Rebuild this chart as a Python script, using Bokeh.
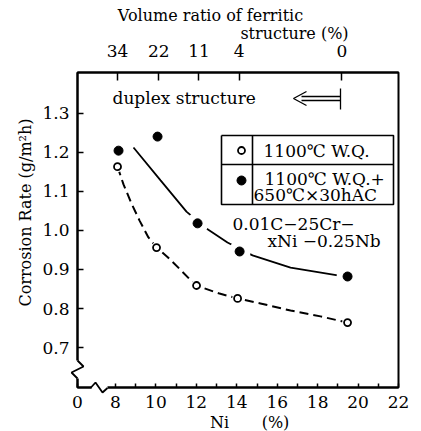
import math
from bokeh.plotting import figure
from bokeh.models import LinearAxis, FixedTicker, Range1d
from bokeh.core.properties import value
from bokeh.embed import file_html
from bokeh.resources import INLINE

# ---------------- data ----------------
# 1100C W.Q. (open circles)
ni_wq = [8.10, 10.03, 12.01, 14.04, 19.48]
rate_wq = [1.163, 0.956, 0.859, 0.826, 0.764]
# 1100C W.Q. + 650C x 30h AC (filled circles)
ni_aged = [8.15, 10.08, 12.06, 14.14, 19.48]
rate_aged = [1.204, 1.240, 1.018, 0.946, 0.882]

# hand-drawn trend curves
trend_wq_ni = [8.10, 8.40, 8.79, 9.19, 9.63, 10.03, 10.57, 11.12, 11.71, 12.01,
               13.10, 14.04, 15.17, 16.66, 18.14, 19.48]
trend_wq_rate = [1.163, 1.117, 1.069, 1.025, 0.982, 0.956, 0.932, 0.904, 0.873, 0.859,
                 0.839, 0.826, 0.813, 0.795, 0.780, 0.764]
trend_aged_ni = [8.89, 10.23, 11.51, 12.50, 13.54, 14.78, 16.66, 18.99, 19.48]
trend_aged_rate = [1.212, 1.128, 1.048, 1.005, 0.969, 0.936, 0.905, 0.885, 0.880]

# axes
ni_ticks = [8, 10, 12, 14, 16, 18, 20, 22]
ni_tick_labels = ["8", "10", "12", "14", "16", "18", "20", "22"]
ni_minor_ticks = [9, 11, 13, 15, 17, 19, 21]
ni_origin_label = "0"
rate_ticks = [0.7, 0.8, 0.9, 1.0, 1.1, 1.2, 1.3]
rate_tick_labels = ["0.7", "0.8", "0.9", "1.0", "1.1", "1.2", "1.3"]
ferrite_ni = [8.1, 10.14, 12.13, 14.12, 19.2]
ferrite_labels = ["34", "22", "11", "4", "0"]

# ---------------- layout ----------------
W, H = 421, 431
FL, FR, FT, FB = 77, 398, 72, 387
XMIN, XMAX = 6.12, 22.0
YMIN, YMAX = 0.598, 1.404
SERIF = "DejaVu Serif"


def X(px):
    return XMIN + (px - FL) * (XMAX - XMIN) / (FR - FL)


def Y(py):
    return YMAX - (py - FT) * (YMAX - YMIN) / (FB - FT)


p = figure(width=W, height=H, x_range=Range1d(XMIN, XMAX), y_range=Range1d(YMIN, YMAX),
           output_backend="svg", toolbar_location=None,
           min_border_left=FL, min_border_right=W - FR,
           min_border_top=FT, min_border_bottom=H - FB)
p.grid.visible = False
p.background_fill_color = "white"
p.border_fill_color = "white"
p.outline_line_color = "black"
p.outline_line_width = 2

# bottom axis
xa = p.xaxis[0]
xa.ticker = FixedTicker(ticks=[XMIN] + ni_ticks, minor_ticks=ni_minor_ticks)
ov = {XMIN: ni_origin_label}
ov.update({t: l for t, l in zip(ni_ticks, ni_tick_labels)})
xa.major_label_overrides = ov
xa.axis_line_width = 2
xa.major_tick_in = 4
xa.major_tick_out = 0
xa.minor_tick_in = 4
xa.minor_tick_out = 0
xa.major_tick_line_width = 1.5
xa.minor_tick_line_width = 1.5
xa.major_label_text_font = SERIF
xa.major_label_text_font_size = "17px"
xa.major_label_text_color = "black"
xa.major_label_standoff = 8

# left axis
ya = p.yaxis[0]
ya.ticker = FixedTicker(ticks=rate_ticks, minor_ticks=[])
ya.major_label_overrides = {t: l for t, l in zip(rate_ticks, rate_tick_labels)}
ya.axis_line_width = 2
ya.major_tick_in = 6
ya.major_tick_out = 0
ya.major_tick_line_width = 1.5
ya.major_label_text_font = SERIF
ya.major_label_text_font_size = "17px"
ya.major_label_text_color = "black"
ya.major_label_standoff = 8

# top axis: volume ratio of ferritic structure
ta = LinearAxis(ticker=FixedTicker(ticks=ferrite_ni, minor_ticks=[]),
                major_label_overrides={t: l for t, l in zip(ferrite_ni, ferrite_labels)})
ta.axis_line_width = 2
ta.major_tick_in = 8
ta.major_tick_out = 0
ta.major_tick_line_width = 1.5
ta.major_label_text_font = SERIF
ta.major_label_text_font_size = "17px"
ta.major_label_text_color = "black"
ta.major_label_standoff = 16
p.add_layout(ta, "above")

# ---------------- curves and markers ----------------
p.line(trend_aged_ni, trend_aged_rate, line_color="black", line_width=1.8)
p.line(trend_wq_ni, trend_wq_rate, line_color="black", line_width=2, line_dash="9 5")
# white halos: gaps of the hand-drawn curves around the points
p.scatter(ni_aged, rate_aged, size=22, fill_color="white", line_color=None)
p.scatter(ni_wq, rate_wq, size=11, fill_color="white", line_color=None)
p.scatter(ni_aged, rate_aged, size=9, fill_color="black", line_color="black")
p.scatter(ni_wq, rate_wq, size=7, fill_color="white", line_color="black", line_width=1.8)

# ---------------- legend box ----------------
bl, br, bt, bb, bd, bh = 221, 393, 135, 204, 252, 164
p.multi_line(xs=[[X(bl), X(br), X(br), X(bl), X(bl)], [X(bl), X(br)], [X(bd), X(bd)]],
             ys=[[Y(bt), Y(bt), Y(bb), Y(bb), Y(bt)], [Y(bh), Y(bh)], [Y(bt), Y(bb)]],
             line_color="black", line_width=1.6)
p.scatter([X(241)], [Y(150)], size=7, fill_color="white", line_color="black", line_width=1.8)
p.scatter([X(241)], [Y(180)], size=9, fill_color="black", line_color="black")


def label(px, py, text, size="17px", align="left", style="normal", angle=0.0):
    p.text(x=[X(px)], y=[Y(py)], text=[text], text_font=value(SERIF), text_font_size=value(size),
           text_font_style=style, text_align=align, text_baseline="middle",
           text_color="black", angle=angle, level="overlay")


label(263, 150, "1100℃ W.Q.")
label(264, 178, "1100℃ W.Q.+")
label(253, 194, "650℃×30hAC")
label(232, 223, "0.01C−25Cr−")
label(267, 240, "xNi −0.25Nb")

# duplex structure arrow
label(112, 97, "duplex structure", size="17px")
p.multi_line(xs=[[X(301), X(340)], [X(301), X(340)], [X(306), X(293), X(306)], [X(340), X(340)]],
             ys=[[Y(96), Y(96)], [Y(100), Y(100)], [Y(91), Y(98), Y(105)], [Y(88), Y(109)]],
             line_color="black", line_width=1.3)

# axis titles
label(25, 212, "Corrosion Rate (g/m²h)", size="16px", align="center", angle=math.pi / 2)
label(219, 422, "Ni", size="16px", align="center")
label(275, 422, "(%)", size="16px", align="center")
label(210, 15, "Volume ratio of ferritic", size="16px", align="center")
label(294, 33, "structure (%)", size="16px", align="center")

# axis breaks (drawn above the axes, not clipped)
p.line([X(77), X(77)], [Y(360), Y(378)], line_color="white", line_width=5, level="overlay")
p.line([X(77), X(83), X(71), X(77)], [Y(360), Y(366), Y(372), Y(378)],
       line_color="black", line_width=1.8, level="overlay")
p.line([X(91), X(107)], [Y(388), Y(388)], line_color="white", line_width=5, level="overlay")
p.line([X(90), X(95), X(102), X(107)], [Y(387.5), Y(382), Y(392), Y(387.5)],
       line_color="black", line_width=1.8, level="overlay")

open("out.html", "w").write(file_html(p, INLINE))
